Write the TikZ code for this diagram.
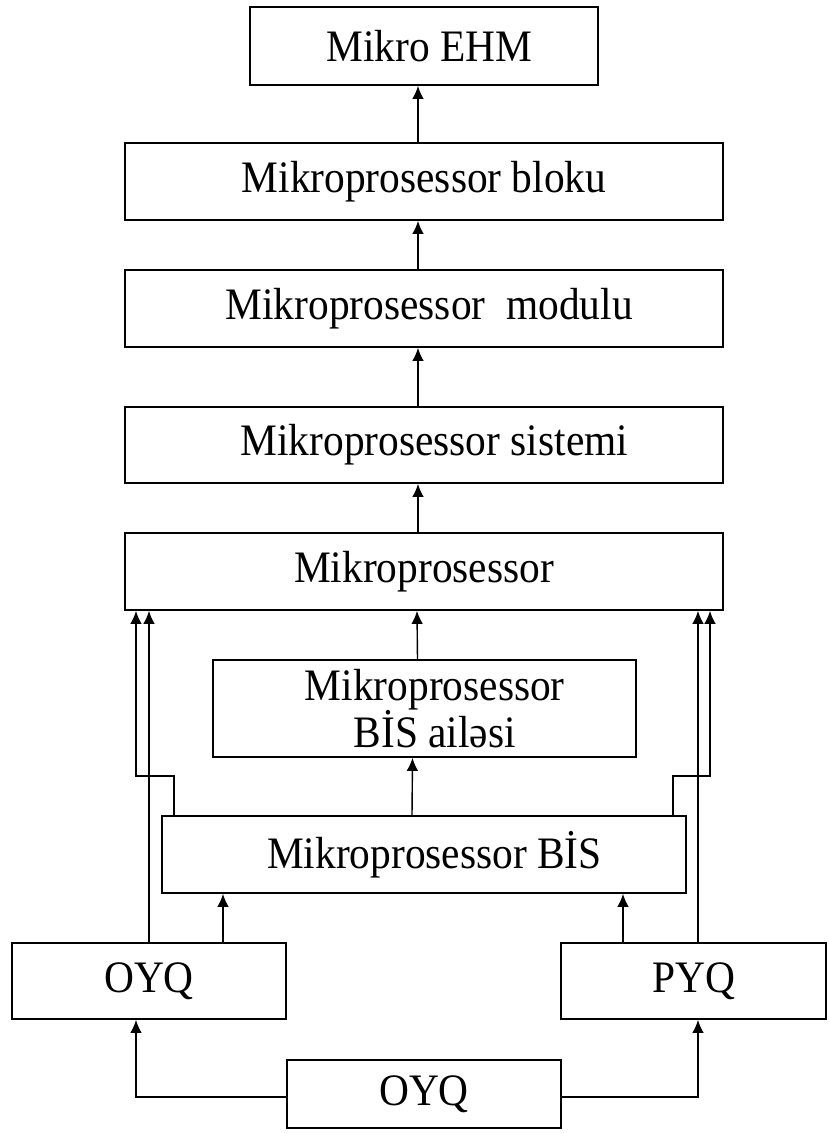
\documentclass[tikz,border=0pt]{standalone}
\usepackage{fontspec}
\setmainfont[FakeStretch=0.92]{Liberation Serif}
\usepackage{tikz}
\usetikzlibrary{arrows.meta}
\tikzset{every node/.style={font=\fontsize{45}{38}\selectfont},
  blok/.style={draw, line width=1.6pt, inner sep=0pt, align=center},
  arr/.style={-{Latex[length=13pt,width=11.5pt]}, line width=1.4pt}}

\begin{document}
\begin{tikzpicture}[x=1pt, y=-1pt]
  \useasboundingbox (0,0) rectangle (828,1133);
  % boxes
  \node[blok, minimum width=348pt, minimum height=78pt] (ehm) at (424,46) {\ Mikro EHM};
  \node[blok, minimum width=598pt, minimum height=77pt] (bloku) at (424,181.5) {Mikroprosessor bloku};
  \node[blok, minimum width=598pt, minimum height=77pt] (modul) at (424,308.5) {\ Mikroprosessor\ \ modulu};
  \node[blok, minimum width=598pt, minimum height=76pt] (sistem) at (424,445) {\ \ Mikroprosessor sistemi};
  \node[blok, minimum width=598pt, minimum height=77pt] (mp) at (424,571.5) {Mikroprosessor};
  \node[blok, minimum width=423pt, minimum height=97pt] (aile) at (424.5,708.5) {\ \ Mikroprosessor\\\ \ BİS ailəsi};
  \node[blok, minimum width=524pt, minimum height=77pt] (bis) at (424,854.5) {\ \ Mikroprosessor BİS};
  \node[blok, minimum width=274pt, minimum height=76pt] (oyqa) at (149,981) {OYQ};
  \node[blok, minimum width=265pt, minimum height=76pt] (pyq) at (693.5,981) {PYQ};
  \node[blok, minimum width=274pt, minimum height=68pt] (oyqb) at (424,1094) {OYQ};
  % bus columns
  \coordinate (lA) at (136,776);
  \coordinate (lB) at (149,0);
  \coordinate (lC) at (174,0);
  \coordinate (lD) at (223,0);
  \coordinate (rA) at (710,776);
  \coordinate (rB) at (698,0);
  \coordinate (rC) at (673,0);
  \coordinate (rD) at (623,0);
  % vertical chain
  \draw[arr] ([xshift=-6pt]bloku.north) -- ([xshift=-6pt]ehm.south);
  \draw[arr] ([xshift=-6pt]modul.north) -- ([xshift=-6pt]bloku.south);
  \draw[arr] ([xshift=-6pt]sistem.north) -- ([xshift=-6pt]modul.south);
  \draw[arr] ([xshift=-6pt]mp.north) -- ([xshift=-6pt]sistem.south);
  \draw[arr] ([xshift=-7pt]aile.north) -- ([xshift=-7pt]mp.south);
  \draw[arr] ([xshift=-12pt]bis.north) -- ([xshift=-12pt]aile.south);
  % left side
  \draw[arr] (oyqa.north -| lD) -- (bis.south -| lD);
  \draw[arr] (oyqa.north -| lB) -- (mp.south -| lB);
  \draw[arr] (bis.north -| lC) |- (lA) -- (mp.south -| lA);
  % right side
  \draw[arr] (pyq.north -| rD) -- (bis.south -| rD);
  \draw[arr] (pyq.north -| rB) -- (mp.south -| rB);
  \draw[arr] (bis.north -| rC) |- (rA) -- (mp.south -| rA);
  % bottom
  \draw[arr] ([yshift=-3pt]oyqb.west) -| (oyqa.south -| lA);
  \draw[arr] ([yshift=-3pt]oyqb.east) -| (pyq.south -| rB);
\end{tikzpicture}
\end{document}
